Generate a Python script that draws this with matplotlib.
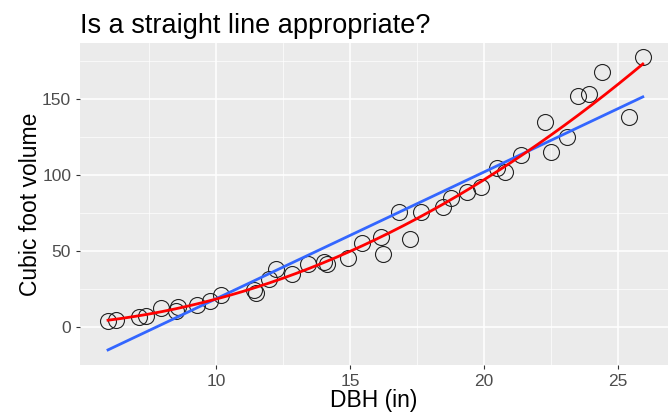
import matplotlib.pyplot as plt
import numpy as np

plt.rcParams['font.family'] = ['Liberation Sans', 'DejaVu Sans']

# DBH (in) e volume (pes cubicos)
dbh = [5.97, 6.27, 7.13, 7.39, 7.95, 8.51, 8.58, 9.29, 9.78, 10.19,
       11.42, 11.49, 11.98, 12.24, 12.84, 13.43, 14.03, 14.14, 14.93, 15.45,
       16.16, 16.23, 16.83, 17.24, 17.65, 18.47, 18.77, 19.37, 19.89, 20.49,
       20.78, 21.38, 22.28, 22.50, 23.10, 23.51, 23.92, 24.40, 25.41, 25.93]
volume = [3.9, 4.6, 6.6, 7.2, 12.5, 10.5, 13.2, 14.5, 17.1, 21.1,
          24.3, 22.4, 31.6, 38.2, 34.9, 41.4, 42.8, 41.4, 45.4, 55.3,
          59.2, 48.0, 75.7, 57.9, 75.7, 78.9, 84.9, 88.8, 92.1, 104.6,
          102.0, 113.2, 134.9, 115.1, 125.0, 152.0, 153.3, 167.8, 138.2, 177.6]

x = np.array(dbh)
y = np.array(volume)

# ajustes: reta (azul) e quadratica (vermelha)
xs = np.linspace(x.min(), x.max(), 200)
lin = np.polyval(np.polyfit(x, y, 1), xs)
quad = np.polyval(np.polyfit(x, y, 2), xs)

fig = plt.figure(figsize=(6.68, 4.12), dpi=100)
ax = fig.add_axes([0.12, 0.114, 0.88, 0.782])
ax.set_facecolor('#EBEBEB')
for s in ax.spines.values():
    s.set_visible(False)

ax.set_xlim(4.93, 26.87)
ax.set_ylim(-24.2, 186.7)
ax.set_xticks([10, 15, 20, 25])
ax.set_yticks([0, 50, 100, 150])
ax.set_xticks([7.5, 12.5, 17.5, 22.5], minor=True)
ax.set_yticks([-25, 25, 75, 125, 175], minor=True)
ax.grid(which='major', color='white', linewidth=1.1)
ax.grid(which='minor', color='white', linewidth=0.5)
ax.set_axisbelow(True)
ax.tick_params(which='major', colors='#333333', labelcolor='#4D4D4D', labelsize=12.5, length=3)
ax.tick_params(which='minor', length=0)

ax.plot(x, y, 'o', markerfacecolor='none', markeredgecolor='#222222',
        markersize=11.5, markeredgewidth=0.8)
ax.plot(xs, lin, color='#3366FF', linewidth=2)
ax.plot(xs, quad, color='red', linewidth=2)

ax.set_xlabel('DBH (in)', fontsize=16.5, labelpad=0)
ax.set_ylabel('Cubic foot volume', fontsize=16.5, labelpad=0)
ax.set_title('Is a straight line appropriate?', loc='left', fontsize=19.5, pad=7)

plt.savefig('out.png')
